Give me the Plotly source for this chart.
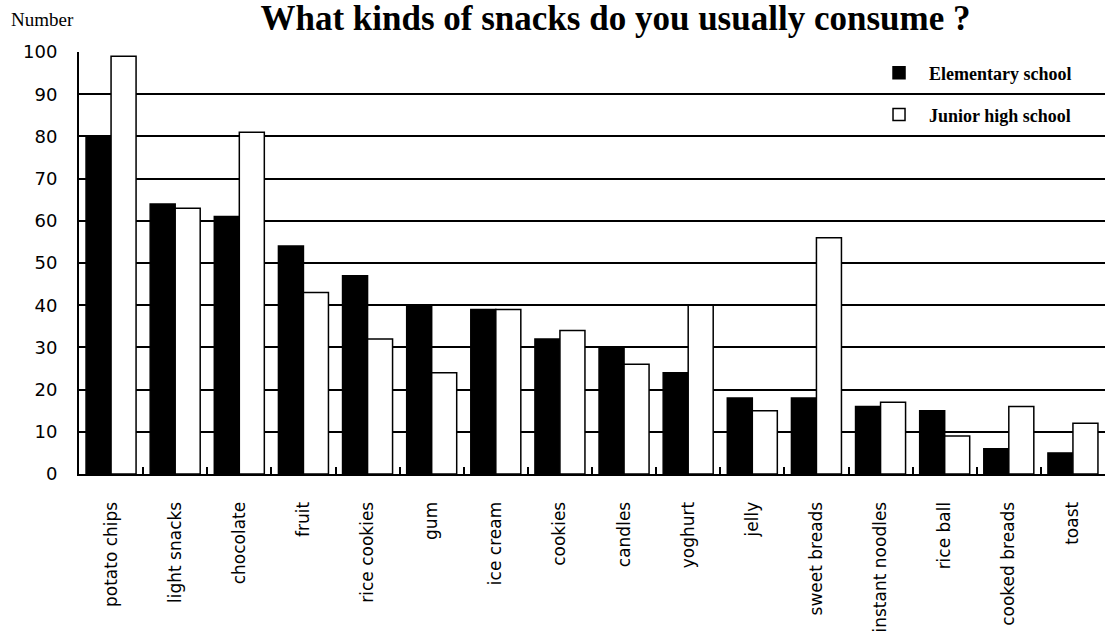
import plotly.graph_objects as go

categories = ["potato chips", "light snacks", "chocolate", "fruit", "rice cookies", "gum",
              "ice cream", "cookies", "candles", "yoghurt", "jelly", "sweet breads",
              "instant noodles", "rice ball", "cooked breads", "toast"]
elementary = [80, 64, 61, 54, 47, 40, 39, 32, 30, 24, 18, 18, 16, 15, 6, 5]
junior_high = [99, 63, 81, 43, 32, 24, 39, 34, 26, 40, 15, 56, 17, 9, 16, 12]
y_ticks = [0, 10, 20, 30, 40, 50, 60, 70, 80, 90, 100]

fig = go.Figure()
fig.add_trace(go.Bar(
    x=categories, y=elementary, name="Elementary school",
    marker=dict(color="black", line=dict(color="black", width=1.5)),
    legend="legend",
))
fig.add_trace(go.Bar(
    x=categories, y=junior_high, name="Junior high school",
    marker=dict(color="white", line=dict(color="black", width=1.5)),
    legend="legend2",
))

legend_font = dict(family="Liberation Serif", size=18, color="black", weight="bold")
fig.update_layout(
    width=1117, height=637,
    margin=dict(l=79, r=12, t=52, b=163),
    plot_bgcolor="white", paper_bgcolor="white",
    barmode="group", bargap=0.22, bargroupgap=0,
    showlegend=True,
    legend=dict(x=0.77, y=0.950, xanchor="left", yanchor="middle", itemwidth=50,
                bgcolor="rgba(0,0,0,0)", font=legend_font),
    legend2=dict(x=0.77, y=0.851, xanchor="left", yanchor="middle", itemwidth=50,
                 bgcolor="rgba(0,0,0,0)", font=legend_font),
    title=dict(text="What kinds of snacks do you usually consume ?",
               x=0.551, xanchor="center", y=0.972, yanchor="middle",
               font=dict(family="Liberation Serif", size=35, color="black", weight="bold")),
    annotations=[dict(text="Number", xref="paper", yref="paper", x=-0.068, y=1.076,
                      xanchor="left", yanchor="middle", showarrow=False,
                      font=dict(family="Liberation Serif", size=19, color="black"))],
)
fig.update_xaxes(
    tickangle=-90, tickfont=dict(family="DejaVu Sans", size=17, color="black"),
    showline=True, linecolor="black", linewidth=2,
    ticks="inside", tickson="boundaries", ticklen=7, tickcolor="black", tickwidth=1.5,
    ticklabelstandoff=19, automargin=False,
    showgrid=False,
)
fig.update_yaxes(
    range=[0, 100], tickvals=y_ticks,
    tickfont=dict(family="DejaVu Sans", size=18, color="black"),
    showgrid=True, gridcolor="black", gridwidth=2,
    showline=True, linecolor="black", linewidth=2,
    ticks="", ticklabelstandoff=16, automargin=False,
    zeroline=False,
)

fig.write_html("out.html")
